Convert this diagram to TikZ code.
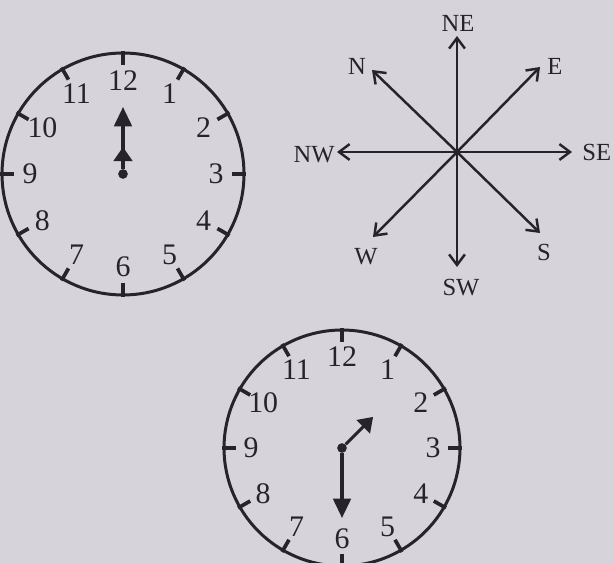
\documentclass[tikz,border=0pt]{standalone}
\usepackage{fontspec}
\setmainfont{Liberation Serif}
\usetikzlibrary{arrows.meta}
\definecolor{ink}{HTML}{26242A}
\definecolor{paper}{HTML}{D6D4DA}
\tikzset{
  clockrim/.style={draw=ink,line width=1.7pt},
  clocktick/.style={draw=ink,line width=2.1pt},
  clocknum/.style={text=ink,font=\fontsize{17}{17}\selectfont,inner sep=0pt},
  minutehand/.style={draw=ink,line width=1.8pt,-{Triangle[length=11pt,width=10pt]}},
  hourhand/.style={draw=ink,line width=1.8pt,-{Triangle[length=8pt,width=10.5pt]}},
  hubdot/.style={circle,fill=ink,inner sep=0pt,minimum size=5.5pt},
  compassar/.style={draw=ink,line width=1.4pt,-{Straight Barb[length=6pt,width=9pt]}},
  dirlabel/.style={text=ink,font=\fontsize{14}{14}\selectfont,inner sep=0pt}
}

\begin{document}
\begin{tikzpicture}[x=0.02cm,y=-0.02cm]
  \fill[paper] (0,0) rectangle (614,563);
  \useasboundingbox (0,0) rectangle (614,563);

  % clock showing twelve
  \begin{scope}[shift={(123,174)}]
    \draw[clockrim] (0,0) circle (2.42cm);
    \foreach \h in {1,...,12} {
      \draw[clocktick] (-90+30*\h:109) -- (-90+30*\h:123);
      \node[clocknum] (a\h) at (-90+30*\h:93) {\h};
    }
    \node[hubdot] (ahub) at (0,0) {};
    \coordinate (amin) at (-90:67);
    \coordinate (ahour) at (-90:27);
    \draw[minutehand] (ahub) -- (amin);
    \draw[hourhand] (ahub) -- (ahour);
  \end{scope}

  % clock showing half past one
  \begin{scope}[shift={(342,448)}]
    \draw[clockrim] (0,0) circle (2.36cm);
    \foreach \h in {1,...,12} {
      \draw[clocktick] (-90+30*\h:106) -- (-90+30*\h:120);
      \node[clocknum] (b\h) at (-90+30*\h:91) {\h};
    }
    \node[hubdot] (bhub) at (0,0) {};
    \coordinate (bmin) at (90:70);
    \coordinate (bhour) at (-45:44);
    \draw[minutehand] (bhub) -- (bmin);
    \draw[hourhand] (bhub) -- (bhour);
  \end{scope}

  % compass
  \coordinate (hub)   at (457,152);
  \coordinate (tipNE) at (457,36);
  \coordinate (tipSW) at (457,267);
  \coordinate (tipNW) at (337,152);
  \coordinate (tipSE) at (572,152);
  \coordinate (tipN)  at (372,70);
  \coordinate (tipE)  at (540,67);
  \coordinate (tipW)  at (373,237);
  \coordinate (tipS)  at (540,233);

  \node[dirlabel]             (NE) at (458,23)  {NE};
  \node[dirlabel]             (SW) at (461,288) {SW};
  \node[dirlabel,anchor=east] (NW) at (335,155) {NW};
  \node[dirlabel,anchor=west] (SE) at (582,152) {SE};
  \node[dirlabel]             (N)  at (357,66)  {N};
  \node[dirlabel]             (E)  at (555,66)  {E};
  \node[dirlabel]             (W)  at (366,257) {W};
  \node[dirlabel]             (S)  at (544,252) {S};

  \foreach \d in {NE,SW,NW,SE,N,E,W,S}
    \draw[compassar] (hub) -- (tip\d);
\end{tikzpicture}
\end{document}
